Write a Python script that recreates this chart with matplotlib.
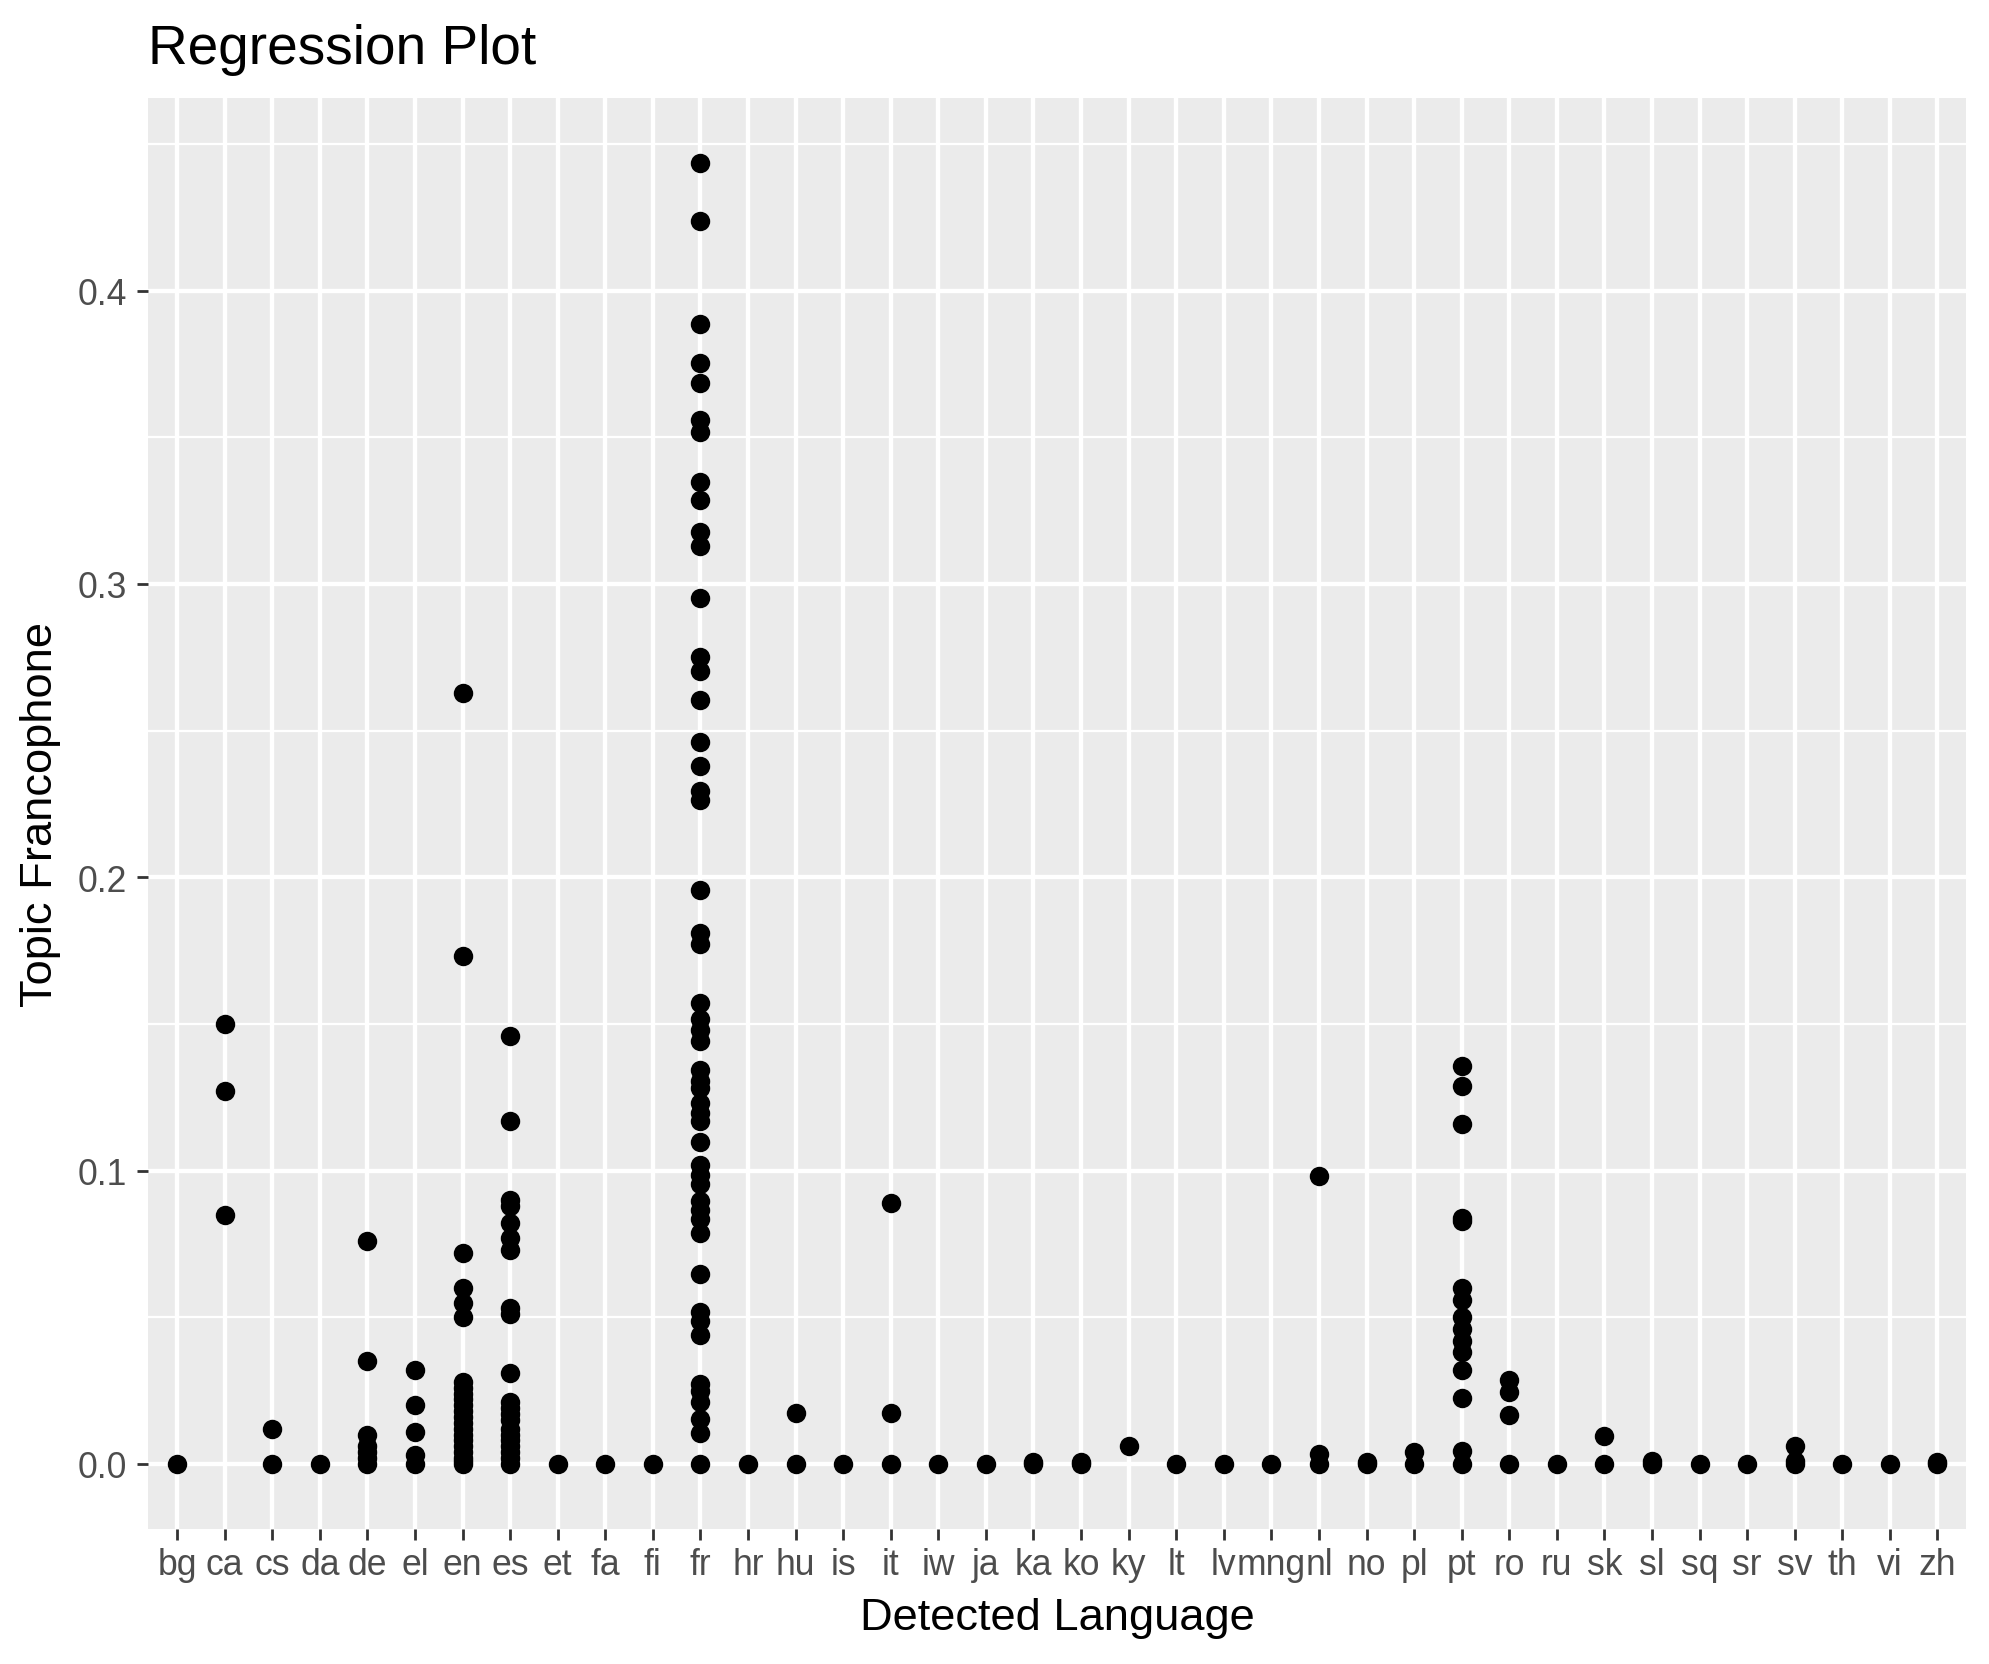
import matplotlib
matplotlib.use("Agg")
from matplotlib import pyplot as plt
import numpy as np

plt.rcParams['font.family'] = ['Liberation Sans', 'DejaVu Sans']

# categories on the x axis
languages = ['bg', 'ca', 'cs', 'da', 'de', 'el', 'en', 'es', 'et', 'fa', 'fi', 'fr',
             'hr', 'hu', 'is', 'it', 'iw', 'ja', 'ka', 'ko', 'ky', 'lt', 'lv', 'mng',
             'nl', 'no', 'pl', 'pt', 'ro', 'ru', 'sk', 'sl', 'sq', 'sr', 'sv', 'th',
             'vi', 'zh']

# topic values per language
v_bg = [0.0]
v_ca = [0.150, 0.127, 0.085]
v_cs = [0.012, 0.0]
v_da = [0.0]
v_de = [0.076, 0.035, 0.010, 0.006, 0.004, 0.002, 0.0]
v_el = [0.032, 0.020, 0.011, 0.003, 0.0]
v_en = [0.263, 0.173, 0.072, 0.060, 0.055, 0.050, 0.028, 0.026, 0.024, 0.022,
        0.020, 0.018, 0.016, 0.014, 0.012, 0.010, 0.008, 0.006, 0.004, 0.002,
        0.001, 0.0]
v_es = [0.146, 0.117, 0.090, 0.088, 0.082, 0.077, 0.073, 0.053, 0.051, 0.031,
        0.021, 0.019, 0.017, 0.015, 0.012, 0.010, 0.008, 0.006, 0.004, 0.002, 0.0]
v_et = [0.0]
v_fa = [0.0]
v_fi = [0.0]
v_fr = [0.4435, 0.4238, 0.3887, 0.3755, 0.3686, 0.356, 0.3519, 0.3347, 0.3286,
        0.3177, 0.3131, 0.2953, 0.2751, 0.2702, 0.2603, 0.2462, 0.2378, 0.2295,
        0.2265, 0.1958, 0.1809, 0.1772, 0.157, 0.1517, 0.1479, 0.1441, 0.1342,
        0.1305, 0.1282, 0.1229, 0.1198, 0.1168, 0.1099, 0.1018, 0.0986, 0.0956,
        0.0898, 0.0865, 0.0835, 0.0789, 0.0649, 0.0518, 0.0486, 0.0439, 0.0273,
        0.025, 0.0212, 0.0152, 0.0106, 0.0]
v_hr = [0.0]
v_hu = [0.0175, 0.0]
v_is = [0.0]
v_it = [0.089, 0.0175, 0.0]
v_iw = [0.0]
v_ja = [0.0]
v_ka = [0.0005, 0.0]
v_ko = [0.0005, 0.0]
v_ky = [0.006]
v_lt = [0.0]
v_lv = [0.0]
v_mng = [0.0]
v_nl = [0.098, 0.0035, 0.0]
v_no = [0.0005, 0.0]
v_pl = [0.004, 0.0]
v_pt = [0.1356, 0.129, 0.116, 0.0838, 0.0828, 0.060, 0.0558, 0.050, 0.046,
        0.042, 0.038, 0.032, 0.0225, 0.0045, 0.0]
v_ro = [0.0285, 0.0245, 0.0168, 0.0]
v_ru = [0.0]
v_sk = [0.0097, 0.0]
v_sl = [0.001, 0.0]
v_sq = [0.0]
v_sr = [0.0]
v_sv = [0.006, 0.001, 0.0]
v_th = [0.0]
v_vi = [0.0]
v_zh = [0.0008, 0.0]

all_values = [v_bg, v_ca, v_cs, v_da, v_de, v_el, v_en, v_es, v_et, v_fa, v_fi,
              v_fr, v_hr, v_hu, v_is, v_it, v_iw, v_ja, v_ka, v_ko, v_ky, v_lt,
              v_lv, v_mng, v_nl, v_no, v_pl, v_pt, v_ro, v_ru, v_sk, v_sl, v_sq,
              v_sr, v_sv, v_th, v_vi, v_zh]

y_ticks = [0.0, 0.1, 0.2, 0.3, 0.4]
y_minor = [0.05, 0.15, 0.25, 0.35, 0.45]

W, H = 1990, 1665
fig = plt.figure(figsize=(W / 200, H / 200), dpi=200)

# panel box in pixels
left, right, top, bottom = 148.5, 1966, 99, 1530
ax = fig.add_axes([left / W, 1 - bottom / H, (right - left) / W, (bottom - top) / H])
ax.set_facecolor('#EBEBEB')
for s in ax.spines.values():
    s.set_visible(False)

xs = []
ys = []
for i, vals in enumerate(all_values):
    for v in vals:
        xs.append(i)
        ys.append(v)
ax.scatter(xs, ys, s=49, c='black', linewidths=0, zorder=3)

n = len(languages)
ax.set_xlim(-0.6, n - 1 + 0.6)
ymax = max(ys)
ax.set_ylim(-0.05 * ymax, ymax * 1.05)

ax.set_xticks(range(n))
ax.set_xticklabels(languages)
ax.set_yticks(y_ticks)
ax.set_yticklabels(['%.1f' % t for t in y_ticks])
ax.set_yticks(y_minor, minor=True)

ax.grid(True, which='major', color='white', linewidth=1.55, zorder=0)
ax.grid(True, which='minor', axis='y', color='white', linewidth=0.8, zorder=0)
ax.set_axisbelow(True)

ax.tick_params(axis='both', which='major', length=3.9, width=1.0, color='#333333',
               labelcolor='#4D4D4D', labelsize=12.8)
ax.tick_params(axis='x', pad=2.5)
ax.tick_params(axis='y', pad=4.0)
ax.tick_params(axis='y', which='minor', length=0)

ax.set_title('Regression Plot', loc='left', fontsize=19.8, pad=12.5, color='black')
fig.text((left + right) / 2 / W, 1 - 1630 / H, 'Detected Language', ha='center',
         va='baseline', fontsize=16.3, color='black')
fig.text(41 / W, 1 - (top + bottom) / 2 / H, 'Topic Francophone', ha='center',
         va='center', rotation=90, fontsize=16.3, color='black')

fig.savefig('out.png', dpi=200, facecolor='white')
